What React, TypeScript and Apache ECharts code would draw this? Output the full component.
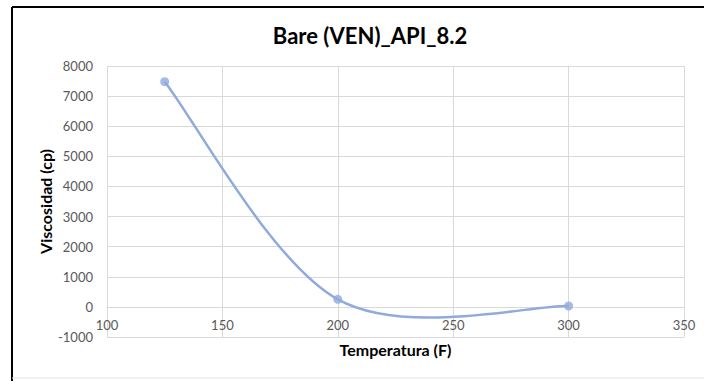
import React, { useEffect, useRef } from "react";
import * as echarts from "echarts";

const temperatures = [125, 200, 300];
const viscosities = [7480, 250, 30];
const chartTitle = "Bare (VEN)_API_8.2";
const xTitle = "Temperatura (F)";
const yTitle = "Viscosidad (cp)";

const LINE_COLOR = "#8FAADC";
const FONT = "Lato, 'Open Sans', 'DejaVu Sans', sans-serif";

const GRID_TOP = 66;
const GRID_BOTTOM = 44;
const Y_MIN = -1000;
const Y_MAX = 8000;

export default function App() {
  const ref = useRef<HTMLDivElement | null>(null);

  useEffect(() => {
    if (!ref.current) return;
    const chart = echarts.init(ref.current, undefined, { renderer: "svg" });
    const points = temperatures.map((t, i) => [t, viscosities[i]]);
    const plotHeight = 381 - GRID_TOP - GRID_BOTTOM;
    // place the horizontal axis where y = 0, as the reference does
    const zeroOffset = -((0 - Y_MIN) / (Y_MAX - Y_MIN)) * plotHeight;

    const option: any = {
      animation: false,
      backgroundColor: "#ffffff",
      textStyle: { fontFamily: FONT },
      title: {
        text: chartTitle,
        left: 365,
        textAlign: "center",
        top: 19,
        textStyle: { fontFamily: FONT, fontSize: 22, fontWeight: "bold", color: "#000000" },
      },
      graphic: [
        { type: "line", shape: { x1: 12, y1: 7, x2: 704, y2: 7 }, style: { stroke: "#000000", lineWidth: 2 } },
        { type: "line", shape: { x1: 12, y1: 7, x2: 12, y2: 381 }, style: { stroke: "#000000", lineWidth: 2 } },
        { type: "line", shape: { x1: 12, y1: 378, x2: 704, y2: 378 }, style: { stroke: "#e3e3e3", lineWidth: 1 } },
      ],
      grid: { left: 107, right: 20, top: GRID_TOP, bottom: GRID_BOTTOM, containLabel: false, outerBoundsMode: "none" },
      xAxis: {
        type: "value",
        min: 100,
        max: 350,
        interval: 50,
        offset: zeroOffset,
        name: xTitle,
        nameLocation: "middle",
        nameGap: 35,
        nameMoveOverlap: false,
        nameTextStyle: { fontFamily: FONT, fontSize: 16, fontWeight: "bold", color: "#000000" },
        axisLine: { show: true, onZero: false, lineStyle: { color: "#d9d9d9", width: 1 } },
        axisTick: { show: false },
        axisLabel: { color: "#595959", fontSize: 13, fontFamily: FONT, margin: 12 },
        splitLine: { show: true, lineStyle: { color: "#d9d9d9", width: 1 } },
      },
      yAxis: {
        type: "value",
        min: Y_MIN,
        max: Y_MAX,
        interval: 1000,
        name: yTitle,
        nameLocation: "middle",
        nameRotate: 90,
        nameGap: 54,
        nameMoveOverlap: false,
        nameTextStyle: { fontFamily: FONT, fontSize: 16, fontWeight: "bold", color: "#000000" },
        axisLine: { show: false, onZero: false },
        axisTick: { show: false },
        axisLabel: { color: "#595959", fontSize: 13, fontFamily: FONT, margin: 14, formatter: (v: number) => String(v) },
        splitLine: { show: true, lineStyle: { color: "#d9d9d9", width: 1 } },
      },
      series: [
        {
          type: "custom",
          coordinateSystem: "cartesian2d",
          silent: true,
          z: 2,
          data: points,
          encode: { x: 0, y: 1 },
          renderItem: (params: any, api: any) => {
            const i = params.dataIndex;
            if (i >= points.length - 1) return null;
            const p = points.map((pt) => api.coord(pt));
            const p0 = p[Math.max(i - 1, 0)];
            const p1 = p[i];
            const p2 = p[i + 1];
            const p3 = p[Math.min(i + 2, p.length - 1)];
            return {
              type: "bezierCurve",
              shape: {
                x1: p1[0],
                y1: p1[1],
                x2: p2[0],
                y2: p2[1],
                cpx1: p1[0] + (p2[0] - p0[0]) / 6,
                cpy1: p1[1] + (p2[1] - p0[1]) / 6,
                cpx2: p2[0] - (p3[0] - p1[0]) / 6,
                cpy2: p2[1] - (p3[1] - p1[1]) / 6,
              },
              style: { stroke: LINE_COLOR, lineWidth: 2.5, fill: "none" },
            };
          },
        },
        {
          type: "scatter",
          data: points,
          symbol: "circle",
          symbolSize: 9,
          z: 3,
          itemStyle: { color: LINE_COLOR },
        },
      ],
    };
    chart.setOption(option);
    return () => chart.dispose();
  }, []);

  return (
    <div
      ref={ref}
      style={{ position: "fixed", left: 0, top: 0, width: 704, height: 381 }}
    />
  );
}
